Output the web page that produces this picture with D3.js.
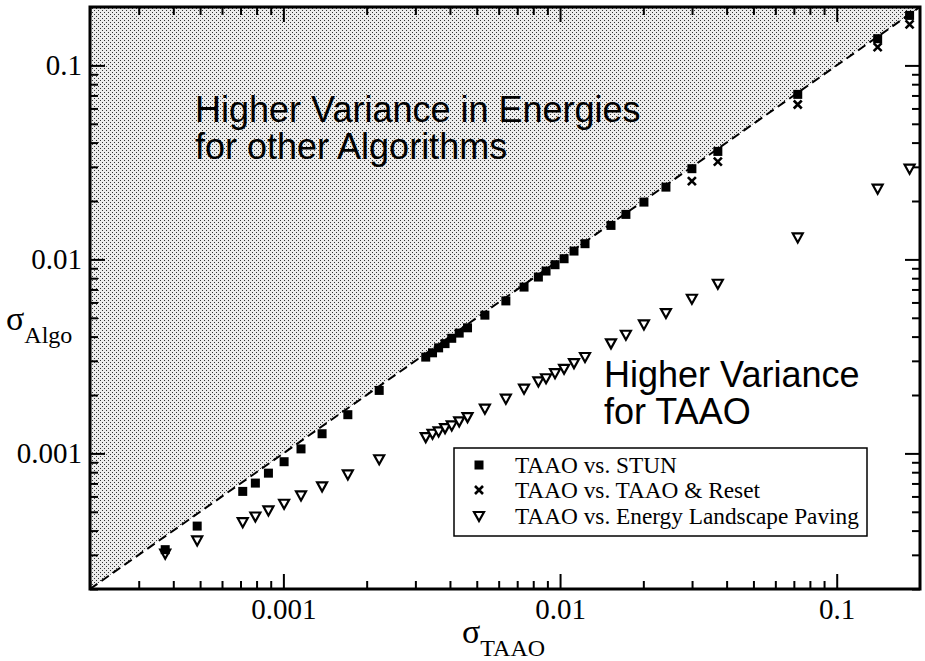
<html>
<head>
  <meta charset="utf-8">
  <title>sigma TAAO vs sigma Algo</title>
  <script src="https://d3js.org/d3.v7.min.js"></script>
  <style>
    body { margin: 0; background: #fff; }
  </style>
</head>
<body>
<div id="chart"></div>
<script>

// x positions (sigma TAAO), shared by all three series
var sigmaTAAO = [0.000374, 0.000488, 0.000713, 0.000792, 0.000883, 0.001006, 0.001158, 0.00138, 0.00171, 0.00222,
  0.00327, 0.00346, 0.00364, 0.00384, 0.00406, 0.00432, 0.00463, 0.00535, 0.00637, 0.00741,
  0.00835, 0.0089, 0.00959, 0.01034, 0.01123, 0.01231, 0.01528, 0.0173, 0.0201, 0.02414,
  0.02996, 0.03718, 0.0723, 0.1406, 0.1834]

// TAAO vs. STUN
var stun = [0.000319, 0.000422, 0.000637, 0.000703, 0.000791, 0.000906, 0.001055, 0.001263, 0.001583, 0.002112,
  0.003136, 0.0033, 0.0035, 0.00368, 0.00392, 0.00417, 0.00444, 0.00516, 0.00611, 0.0072,
  0.00811, 0.00871, 0.00939, 0.01008, 0.01104, 0.01205, 0.01497, 0.01706, 0.01974, 0.02358,
  0.02935, 0.03603, 0.0709, 0.1373, 0.181]

// TAAO vs. TAAO & Reset (only the last five show up)
var resetX = [0.02996, 0.03718, 0.0723, 0.1406, 0.1834]
var reset = [0.02533, 0.03189, 0.0629, 0.1242, 0.1627]

// TAAO vs. Energy Landscape Paving
var elp = [0.000304, 0.000356, 0.000442, 0.000473, 0.000508, 0.00055, 0.000607, 0.000676, 0.000779, 0.000933,
  0.001213, 0.001263, 0.001298, 0.00135, 0.001394, 0.001462, 0.001538, 0.0017, 0.001914, 0.002156,
  0.00235, 0.00244, 0.00259, 0.00273, 0.00292, 0.00314, 0.00369, 0.00409, 0.00462, 0.00529,
  0.00627, 0.00749, 0.01298, 0.02314, 0.02935]

var majorTicks = [0.001, 0.01, 0.1]
var majorLabels = ["0.001", "0.01", "0.1"]
var minorTicks = [0.0002, 0.0003, 0.0004, 0.0005, 0.0006, 0.0007, 0.0008, 0.0009,
  0.002, 0.003, 0.004, 0.005, 0.006, 0.007, 0.008, 0.009,
  0.02, 0.03, 0.04, 0.05, 0.06, 0.07, 0.08, 0.09]

var legendNames = ["TAAO vs. STUN", "TAAO vs. TAAO & Reset", "TAAO vs. Energy Landscape Paving"]

var width = 925, height = 661
// plot box (don't use "top" as a name, window.top is read-only)
var pl = 90, pr = 920, pt = 7, pb = 589

var svg = d3.select("#chart").append("svg")
  .attr("width", width)
  .attr("height", height)

var x = d3.scaleLog().domain([0.0002, 0.2]).range([pl, pr])
var y = d3.scaleLog().domain([0.0002, 0.2]).range([pb, pt])

// stipple pattern for the region above the diagonal
var defs = svg.append("defs")
var pat = defs.append("pattern")
  .attr("id", "dots")
  .attr("patternUnits", "userSpaceOnUse")
  .attr("width", 4).attr("height", 4)
pat.append("rect").attr("width", 4).attr("height", 4).attr("fill", "#ececec")
pat.append("rect").attr("x", 0).attr("y", 0).attr("width", 1).attr("height", 1).attr("fill", "#333")
pat.append("rect").attr("x", 2).attr("y", 2).attr("width", 1).attr("height", 1).attr("fill", "#333")

var lo = 0.0002, hi = 0.2
svg.append("path")
  .attr("d", d3.line()([[x(lo), y(lo)], [x(lo), y(hi)], [x(hi), y(hi)]]) + "Z")
  .attr("fill", "url(#dots)")

// y = x reference line
svg.append("line")
  .attr("x1", x(lo)).attr("y1", y(lo))
  .attr("x2", x(hi)).attr("y2", y(hi))
  .attr("stroke", "black")
  .attr("stroke-width", 2)
  .attr("stroke-dasharray", "9,5")

// annotations
var sans = "'Liberation Sans', Arial, sans-serif"
var serif = "'Liberation Serif', 'Times New Roman', serif"

var note1 = svg.append("text").attr("font-family", sans).attr("font-size", 36).attr("fill", "black")
note1.append("tspan").attr("x", 195).attr("y", 122).text("Higher Variance in Energies")
note1.append("tspan").attr("x", 195).attr("y", 159).text("for other Algorithms")

var note2 = svg.append("text").attr("font-family", sans).attr("font-size", 36).attr("fill", "black")
note2.append("tspan").attr("x", 604).attr("y", 387).text("Higher Variance")
note2.append("tspan").attr("x", 604).attr("y", 424).text("for TAAO")

// axes: major + minor ticks on all four sides, pointing inward
function styleAxis(g) {
  g.select(".domain").remove()
  g.selectAll(".tick line").attr("stroke-width", 2)
  g.selectAll("text").attr("font-family", serif).attr("font-size", 29).attr("fill", "black")
}

svg.append("g").attr("transform", "translate(0," + pb + ")")
  .call(d3.axisBottom(x).tickValues(majorTicks).tickFormat(function(d, i) { return majorLabels[i] })
    .tickSizeInner(-15).tickSizeOuter(0).tickPadding(9))
  .call(styleAxis)
svg.append("g").attr("transform", "translate(0," + pb + ")")
  .call(d3.axisBottom(x).tickValues(minorTicks).tickFormat("").tickSizeInner(-8).tickSizeOuter(0))
  .call(styleAxis)

svg.append("g").attr("transform", "translate(0," + pt + ")")
  .call(d3.axisTop(x).tickValues(majorTicks).tickFormat("").tickSizeInner(-15).tickSizeOuter(0))
  .call(styleAxis)
svg.append("g").attr("transform", "translate(0," + pt + ")")
  .call(d3.axisTop(x).tickValues(minorTicks).tickFormat("").tickSizeInner(-8).tickSizeOuter(0))
  .call(styleAxis)

svg.append("g").attr("transform", "translate(" + pl + ",0)")
  .call(d3.axisLeft(y).tickValues(majorTicks).tickFormat(function(d, i) { return majorLabels[i] })
    .tickSizeInner(-15).tickSizeOuter(0).tickPadding(8))
  .call(styleAxis)
svg.append("g").attr("transform", "translate(" + pl + ",0)")
  .call(d3.axisLeft(y).tickValues(minorTicks).tickFormat("").tickSizeInner(-8).tickSizeOuter(0))
  .call(styleAxis)

svg.append("g").attr("transform", "translate(" + pr + ",0)")
  .call(d3.axisRight(y).tickValues(majorTicks).tickFormat("").tickSizeInner(-15).tickSizeOuter(0))
  .call(styleAxis)
svg.append("g").attr("transform", "translate(" + pr + ",0)")
  .call(d3.axisRight(y).tickValues(minorTicks).tickFormat("").tickSizeInner(-8).tickSizeOuter(0))
  .call(styleAxis)

// frame
svg.append("rect")
  .attr("x", pl).attr("y", pt)
  .attr("width", pr - pl).attr("height", pb - pt)
  .attr("fill", "none")
  .attr("stroke", "black")
  .attr("stroke-width", 3)

// marker shapes
var triPath = "M-5,-4L5,-4L0,5Z"
var crossPath = "M-4,-4L4,4M-4,4L4,-4"

svg.selectAll(".tri")
  .data(sigmaTAAO)
  .enter()
  .append("path")
    .attr("class", "tri")
    .attr("d", triPath)
    .attr("transform", function(d, i) { return "translate(" + x(d) + "," + y(elp[i]) + ")" })
    .attr("fill", "white")
    .attr("stroke", "black")
    .attr("stroke-width", 2.2)

svg.selectAll(".sq")
  .data(sigmaTAAO)
  .enter()
  .append("rect")
    .attr("class", "sq")
    .attr("x", function(d) { return x(d) - 4.5 })
    .attr("y", function(d, i) { return y(stun[i]) - 4.5 })
    .attr("width", 9).attr("height", 9)
    .attr("fill", "black")

svg.selectAll(".cr")
  .data(resetX)
  .enter()
  .append("path")
    .attr("class", "cr")
    .attr("d", crossPath)
    .attr("transform", function(d, i) { return "translate(" + x(d) + "," + y(reset[i]) + ")" })
    .attr("fill", "none")
    .attr("stroke", "black")
    .attr("stroke-width", 2.6)

// legend
var leg = svg.append("g")
leg.append("rect")
  .attr("x", 454).attr("y", 448)
  .attr("width", 413).attr("height", 88)
  .attr("fill", "white")
  .attr("stroke", "black")
  .attr("stroke-width", 1.5)

var rowY = [465, 490, 516]
leg.append("rect").attr("x", 474.5).attr("y", rowY[0] - 4.5).attr("width", 9).attr("height", 9).attr("fill", "black")
leg.append("path").attr("d", crossPath).attr("transform", "translate(479," + rowY[1] + ")")
  .attr("stroke", "black").attr("stroke-width", 2.6).attr("fill", "none")
leg.append("path").attr("d", triPath).attr("transform", "translate(479," + rowY[2] + ")")
  .attr("stroke", "black").attr("stroke-width", 2.2).attr("fill", "white")

leg.selectAll("legText")
  .data(legendNames)
  .enter()
  .append("text")
    .text(function(d) { return d })
    .attr("x", 515)
    .attr("y", function(d, i) { return rowY[i] + 8 })
    .attr("font-family", serif)
    .attr("font-size", 23.3)
    .attr("fill", "black")

// axis titles
var xt = svg.append("text").attr("font-family", serif).attr("fill", "black").attr("x", 462).attr("y", 643)
xt.append("tspan").attr("font-size", 34).text("σ")
xt.append("tspan").attr("font-size", 24).attr("dy", 13).text("TAAO")

var yt = svg.append("text").attr("font-family", serif).attr("fill", "black").attr("x", 6).attr("y", 330)
yt.append("tspan").attr("font-size", 34).text("σ")
yt.append("tspan").attr("font-size", 24).attr("dy", 13).text("Algo")

</script>
</body>
</html>
